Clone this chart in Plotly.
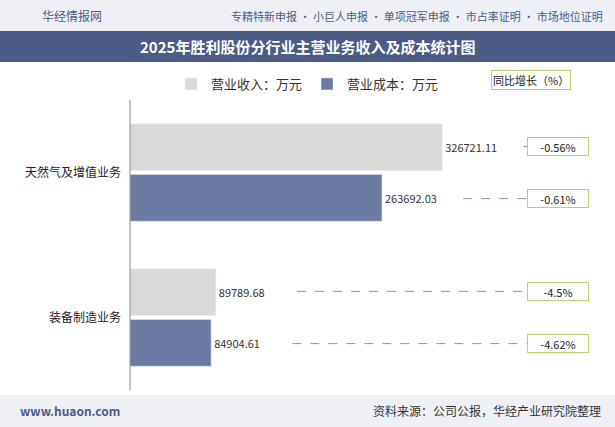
import plotly.graph_objects as go

categories = ["天然气及增值业务", "装备制造业务"]
revenue = [326721.11, 89789.68]
cost = [263692.03, 84904.61]
rev_growth = ["-0.56%", "-4.5%"]
cost_growth = ["-0.61%", "-4.62%"]

W, H = 615, 427
L, R, T, B = 130, 55, 100, 37
XMAX = 450000
pw = W - L - R
ph = H - T - B
def px2x(p):
    return (p - L) / pw * XMAX
def py(p):
    return 1 - (p - T) / ph
def pxp(p):
    return (p - L) / pw

fig = go.Figure()
fig.add_bar(y=categories, x=revenue, orientation="h", name="营业收入：万元",
            marker_color="#d9d9d9", text=[f"{v:.2f}" for v in revenue],
            textposition="outside", textfont=dict(size=11, color="#333"), cliponaxis=False)
fig.add_bar(y=categories, x=cost, orientation="h", name="营业成本：万元",
            marker_color="#6a7aa3", text=[f"{v:.2f}" for v in cost],
            textposition="outside", textfont=dict(size=11, color="#333"), cliponaxis=False)

shapes = []
ann = []
for i in range(2):
    for j, (vals, g) in enumerate(((revenue, rev_growth), (cost, cost_growth))):
        yc = i + (-0.18 if j == 0 else 0.18)
        shapes.append(dict(type="line", xref="x", yref="y", x0=vals[i] + 85000, x1=px2x(527),
                           y0=yc, y1=yc, line=dict(color="#8596ba", width=1, dash="dash")))
        ann.append(dict(xref="paper", yref="y", x=pxp(558), y=yc, text=g[i], showarrow=False,
                        xanchor="center", yanchor="middle", font=dict(size=11, color="#222"),
                        bordercolor="#b8d070", borderwidth=1, bgcolor="white", width=58, height=15))

shapes += [
    dict(type="rect", xref="paper", yref="paper", x0=pxp(0), x1=pxp(W), y0=py(0), y1=py(31),
         fillcolor="#eef0f5", line_width=0, layer="below"),
    dict(type="rect", xref="paper", yref="paper", x0=pxp(0), x1=pxp(W), y0=py(31), y1=py(62),
         fillcolor="#4b5b85", line_width=0, layer="below"),
    dict(type="rect", xref="paper", yref="paper", x0=pxp(0), x1=pxp(W), y0=py(395), y1=py(H),
         fillcolor="#eef0f5", line_width=0, layer="below"),
    dict(type="line", xref="paper", yref="paper", x0=0, x1=0, y0=0, y1=1,
         line=dict(color="#888", width=1)),
]
def txt(x, y, s, xa, size, color):
    return dict(xref="paper", yref="paper", x=pxp(x), y=py(y), text=s, showarrow=False,
                xanchor=xa, yanchor="middle", font=dict(size=size, color=color))
ann += [
    txt(40, 16, "华经情报网", "left", 12, "#4b5b85"),
    txt(605, 16, "专精特新申报 · 小巨人申报 · 单项冠军申报 · 市占率证明 · 市场地位证明", "right", 11, "#4b5b85"),
    txt(W / 2, 47, "<b>2025年胜利股份分行业主营业务收入及成本统计图</b>", "center", 15, "white"),
    txt(18, 410, "<b>www.huaon.com</b>", "left", 12, "#4b5b85"),
    txt(603, 410, "资料来源：公司公报，华经产业研究院整理", "right", 12, "#333"),
]
a = txt(531, 80, "同比增长（%）", "center", 11, "#222")
a.update(bordercolor="#b8d070", borderwidth=1, bgcolor="white")
ann.append(a)

fig.update_layout(
    width=W, height=H, margin=dict(l=L, r=R, t=T, b=B, autoexpand=False),
    paper_bgcolor="white", plot_bgcolor="white",
    font=dict(family="Noto Sans CJK SC", size=12, color="#333"),
    barmode="group", bargap=0.3, bargroupgap=0.08,
    legend=dict(orientation="h", xref="container", yref="container", x=0.5, xanchor="center",
                y=1 - 84 / H, yanchor="middle", font=dict(size=13), bgcolor="rgba(0,0,0,0)"),
    xaxis=dict(range=[0, XMAX], visible=False),
    yaxis=dict(autorange="reversed", showline=False, ticks="", automargin=False,
               ticklabelstandoff=8, tickfont=dict(size=12, color="#222")),
    shapes=shapes, annotations=ann,
)
fig.write_html("out.html", config={"displayModeBar": False})
with open("out.html", encoding="utf-8") as f:
    html = f.read()
html = html.replace("<head>", "<head><style>html,body{margin:0;padding:0;overflow:hidden;}</style>", 1)
with open("out.html", "w", encoding="utf-8") as f:
    f.write(html)
